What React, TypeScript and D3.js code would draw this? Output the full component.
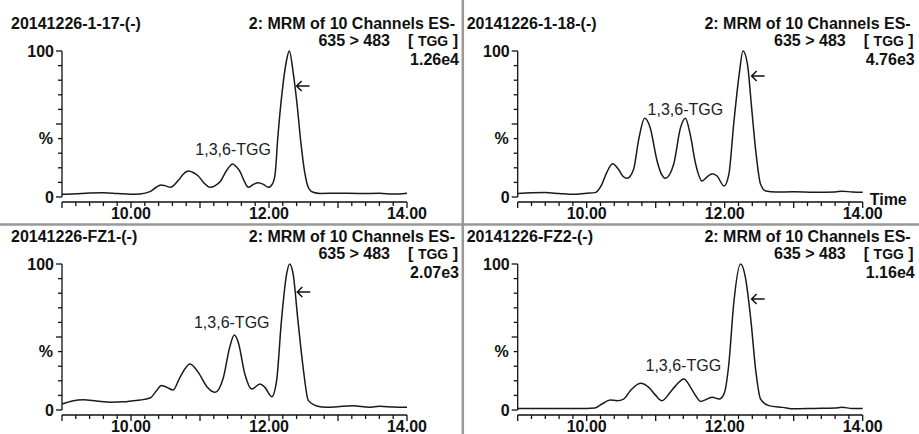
import React from "react";
import * as d3 from "d3";

// chromatogram traces: [retention time, % intensity]
const trace117: [number, number][] = [
  [9.0, 1.8], [9.2, 2.2], [9.4, 2.8], [9.6, 2.9], [9.8, 2.4], [10.0, 1.9], [10.13, 2.1],
  [10.275, 3.7], [10.36, 6.5], [10.43, 8.3], [10.49, 7.8], [10.57, 6.6], [10.69, 11.6],
  [10.76, 15.8], [10.83, 17.8], [10.9, 16.8], [10.975, 14.4], [11.06, 9.5], [11.145, 6.6],
  [11.22, 7.8], [11.29, 10.5], [11.39, 18.5], [11.473, 22.6], [11.53, 20.5], [11.58, 17.4],
  [11.64, 11], [11.7, 6.6], [11.78, 8.8], [11.845, 9.8], [11.92, 8.6], [11.99, 6.6],
  [12.05, 9], [12.09, 16.2], [12.125, 39], [12.193, 73], [12.256, 94], [12.294, 100],
  [12.352, 84.7], [12.41, 62], [12.458, 39], [12.52, 16.2], [12.58, 5.5], [12.64, 3.2],
  [12.74, 2.4], [13.0, 2.6], [13.3, 2.4], [13.6, 2.5], [13.8, 2.0], [14.0, 2.6],
];

const trace118: [number, number][] = [
  [9.0, 2.4], [9.2, 2.9], [9.4, 3.0], [9.6, 2.4], [9.8, 1.8], [10.0, 2.6], [10.12, 3],
  [10.22, 8.7], [10.29, 16.7], [10.375, 22.8], [10.46, 19], [10.53, 14], [10.584, 12.8],
  [10.68, 19], [10.75, 38.4], [10.84, 53.9], [10.92, 47.5], [11.02, 24.7], [11.08, 16],
  [11.14, 12.8], [11.26, 22.4], [11.36, 47.5], [11.43, 53.9], [11.5, 42.9], [11.58, 22.4],
  [11.67, 11], [11.75, 14], [11.82, 16], [11.89, 14.4], [11.99, 7.5], [12.06, 15.5],
  [12.13, 49.8], [12.21, 84], [12.265, 100], [12.33, 90.9], [12.39, 61.2], [12.45, 31.5],
  [12.52, 8.7], [12.595, 4.1], [12.74, 3.4], [13.0, 3.6], [13.3, 3.3], [13.6, 3.5],
  [13.7, 4.0], [13.85, 3.4], [14.0, 3.2],
];

const traceFZ1: [number, number][] = [
  [9.0, 4.1], [9.15, 6.2], [9.31, 7], [9.5, 6.2], [9.7, 5.3], [9.9, 5.6], [10.03, 6.4],
  [10.13, 6.8], [10.275, 8.2], [10.37, 13.2], [10.44, 16.7], [10.52, 15.5], [10.61, 13.7],
  [10.71, 22.4], [10.855, 31.5], [10.975, 25.8], [11.1, 16], [11.22, 12.1], [11.34, 22.4],
  [11.43, 42.9], [11.497, 51.4], [11.555, 46.3], [11.65, 24.7], [11.75, 14.4], [11.87, 17.8],
  [11.94, 15.5], [12.04, 9.1], [12.11, 20], [12.18, 61], [12.255, 93], [12.3, 100],
  [12.35, 93], [12.42, 61], [12.5, 27], [12.57, 6.4], [12.69, 2.8], [12.835, 1.8],
  [13.0, 2.3], [13.22, 2.9], [13.45, 1.8], [13.6, 2.6], [13.8, 2.0], [14.0, 1.8],
];

const traceFZ2: [number, number][] = [
  [9.0, 1.1], [9.5, 1.1], [10.0, 1.1], [10.12, 1.4], [10.22, 4.1], [10.34, 6.8], [10.44, 6.4],
  [10.535, 7.5], [10.632, 13.2], [10.78, 18.3], [10.9, 15.5], [11.0, 10], [11.09, 6.4],
  [11.21, 12.1], [11.29, 16.7], [11.41, 21.2], [11.505, 15.5], [11.58, 9.8], [11.65, 5.9],
  [11.82, 8.7], [11.92, 7.5], [11.99, 11], [12.06, 31.5], [12.13, 72.6], [12.23, 100],
  [12.3, 90.9], [12.38, 61.2], [12.45, 27], [12.52, 7.5], [12.64, 3], [12.84, 1.8],
  [13.0, 0.8], [13.3, 1.1], [13.6, 1.4], [13.7, 1.8], [13.85, 1.1], [14.0, 1.1],
];

const sampleNames = ["20141226-1-17-(-)", "20141226-1-18-(-)", "20141226-FZ1-(-)", "20141226-FZ2-(-)"];
const maxIntensities = ["1.26e4", "4.76e3", "2.07e3", "1.16e4"];
const traces = [trace117, trace118, traceFZ1, traceFZ2];
// where the "1,3,6-TGG" label and the arrow sit, in data units
const labelAt: [number, number][] = [[11.48, 28.8], [11.43, 56.2], [11.46, 56.2], [11.4, 26.9]];
const arrowAt: [number, number][] = [[12.4, 76], [12.39, 82.9], [12.41, 80.8], [12.39, 76]];

const xTicks = d3.range(9, 14.001, 0.2).map((d) => +d.toFixed(1));
const xLabels = [10, 12, 14];
const yTicks = d3.range(0, 101, 10);

const FONT = "'Liberation Sans', Arial, sans-serif";

function Panel({ idx, dx, dy }: { idx: number; dx: number; dy: number }) {
  const x = d3.scaleLinear().domain([9, 14]).range([62, 407]);
  const y = d3.scaleLinear().domain([0, 100]).range([197, 51]);
  const line = d3
    .line<[number, number]>()
    .x((d) => x(d[0]))
    .y((d) => y(d[1]))
    .curve(d3.curveMonotoneX);

  const axisY = y(0) + 5;
  const [lx, lv] = labelAt[idx];
  const [ax, av] = arrowAt[idx];
  const arrX = x(ax);
  const arrY = y(av);

  return (
    <g transform={`translate(${dx},${dy})`} fontFamily={FONT} fill="#111">
      {/* header */}
      <text x={11} y={28.5} fontSize={16} fontWeight="bold">{sampleNames[idx]}</text>
      <text x={455} y={28.5} fontSize={16} fontWeight="bold" textAnchor="end">
        2: MRM of 10 Channels ES-
      </text>
      <text x={390} y={46} fontSize={16} fontWeight="bold" textAnchor="end">635 &gt; 483</text>
      <text x={458} y={46} fontWeight="bold" textAnchor="end">
        <tspan fontSize={16}>[ </tspan>
        <tspan fontSize={14}>TGG</tspan>
        <tspan fontSize={16}> ]</tspan>
      </text>
      <text x={459} y={65} fontSize={16} fontWeight="bold" textAnchor="end">{maxIntensities[idx]}</text>

      {/* y axis */}
      <line x1={x(9)} x2={x(9)} y1={y(100)} y2={y(0)} stroke="#111" strokeWidth={1.3} />
      {yTicks.map((t) => (
        <line
          key={t}
          x1={x(9) - (t % 50 === 0 ? 6 : 4)}
          x2={x(9)}
          y1={y(t)}
          y2={y(t)}
          stroke="#111"
          strokeWidth={1.3}
        />
      ))}
      <text x={54} y={y(100) + 5.5} fontSize={16} fontWeight="bold" textAnchor="end">100</text>
      <text x={53} y={y(40) + 5.5} fontSize={16} fontWeight="bold" textAnchor="end">%</text>
      <text x={54} y={y(0) + 5.5} fontSize={16} fontWeight="bold" textAnchor="end">0</text>

      {/* x axis */}
      <line x1={x(9)} x2={x(14)} y1={axisY} y2={axisY} stroke="#111" strokeWidth={1.3} />
      {xTicks.map((t) => (
        <line
          key={t}
          x1={x(t)}
          x2={x(t)}
          y1={axisY}
          y2={axisY + (Number.isInteger(t) ? 6 : 4)}
          stroke="#111"
          strokeWidth={1.3}
        />
      ))}
      {xLabels.map((t) => (
        <text key={t} x={x(t)} y={axisY + 16.5} fontSize={16} fontWeight="bold" textAnchor="middle">
          {t.toFixed(2)}
        </text>
      ))}
      {idx === 1 && (
        <text x={414} y={y(0) + 8} fontSize={16} fontWeight="bold">Time</text>
      )}

      {/* trace */}
      <path d={line(traces[idx]) ?? ""} fill="none" stroke="#1a1a1a" strokeWidth={1.5} strokeLinejoin="round" />

      {/* annotations */}
      <text x={x(lx)} y={y(lv)} fontSize={16} textAnchor="middle" fill="#222">1,3,6-TGG</text>
      <path
        d={`M${arrX + 13},${arrY} H${arrX} M${arrX + 5},${arrY - 5} L${arrX},${arrY} L${arrX + 5},${arrY + 5}`}
        fill="none"
        stroke="#111"
        strokeWidth={1.5}
      />
    </g>
  );
}

export default function App() {
  return (
    <svg
      width={919}
      height={434}
      style={{ position: "absolute", left: 0, top: 0, background: "#fff" }}
    >
      <rect width={919} height={434} fill="#fff" />
      <Panel idx={0} dx={0} dy={0} />
      <Panel idx={1} dx={455.7} dy={0} />
      <Panel idx={2} dx={0} dy={213} />
      <Panel idx={3} dx={455.7} dy={213} />
      <line x1={0} x2={919} y1={224.5} y2={224.5} stroke="#999" strokeWidth={2.5} />
      <line x1={462.8} x2={462.8} y1={0} y2={434} stroke="#999" strokeWidth={2.5} />
    </svg>
  );
}
